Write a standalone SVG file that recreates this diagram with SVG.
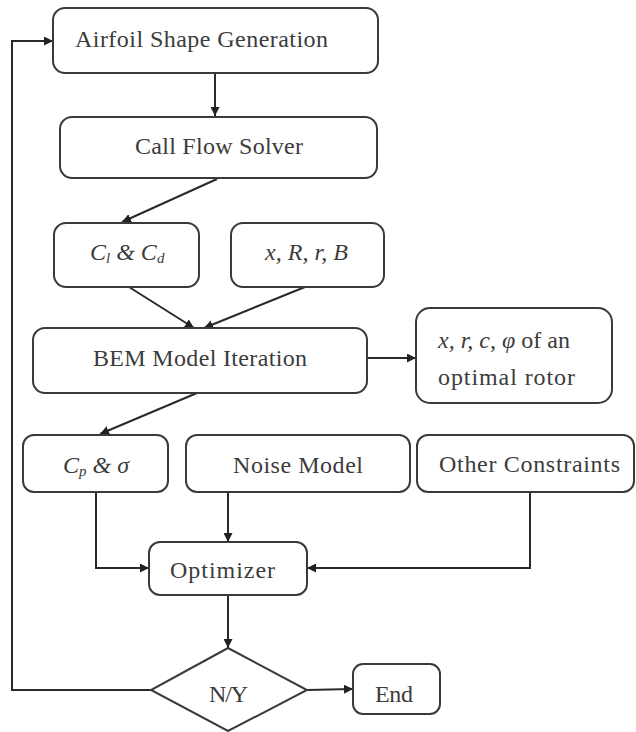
<svg xmlns="http://www.w3.org/2000/svg" width="636" height="732" viewBox="0 0 636 732">
  <defs>
    <marker id="arrow" viewBox="0 0 10 10" refX="10" refY="5" markerWidth="9" markerHeight="9" markerUnits="userSpaceOnUse" orient="auto">
      <path d="M0,0 L10,5 L0,10 z" fill="#222"/>
    </marker>
    <style>
      .box { fill: #fff; stroke: #3a3a3a; stroke-width: 2; }
      text { font-family: "Liberation Serif", "Times New Roman", serif; font-size: 24px; fill: #3c3c3c; }
      .it { font-style: italic; }
      .sub { font-size: 15px; }
      .conn { fill: none; stroke: #2a2a2a; stroke-width: 2; }
      .conn.arr { marker-end: url(#arrow); }
    </style>
  </defs>
  <rect width="636" height="732" fill="#fff"/>

  <!-- flow arrows and the feedback loop -->
  <g id="connectors">
    <line class="conn arr" x1="215" y1="73" x2="215" y2="116"/>
    <line class="conn arr" x1="217" y1="179" x2="122" y2="222"/>
    <line class="conn arr" x1="129" y1="287" x2="194" y2="328"/>
    <line class="conn arr" x1="305" y1="287" x2="204" y2="328"/>
    <line class="conn arr" x1="367" y1="358" x2="416" y2="358"/>
    <line class="conn arr" x1="197" y1="393" x2="100" y2="434"/>
    <polyline class="conn arr" points="96,492 96,568 149,568"/>
    <line class="conn arr" x1="228" y1="492" x2="228" y2="542"/>
    <polyline class="conn arr" points="530,492 530,568 307,568"/>
    <line class="conn arr" x1="228" y1="595" x2="228" y2="648"/>
    <line class="conn arr" x1="307" y1="690" x2="353" y2="689"/>
    <polyline class="conn arr" points="151,690 12,690 12,41 53,41"/>
  </g>

  <g id="airfoil">
    <rect class="box" x="53" y="8" width="325" height="65" rx="12"/>
    <text x="75" y="47" textLength="253">Airfoil Shape Generation</text>
  </g>

  <g id="flow-solver">
    <rect class="box" x="60" y="117" width="317" height="61" rx="12"/>
    <text x="135" y="154" textLength="168">Call Flow Solver</text>
  </g>

  <g id="cl-cd">
    <rect class="box" x="54" y="223" width="145" height="64" rx="12"/>
    <text class="it" x="90" y="260">C<tspan class="sub" dy="3">l</tspan><tspan dy="-3"> &amp; C</tspan><tspan class="sub" dy="3">d</tspan></text>
  </g>

  <g id="geometry">
    <rect class="box" x="231" y="223" width="153" height="64" rx="12"/>
    <text class="it" x="265" y="260" textLength="83">x, R, r, B</text>
  </g>

  <g id="bem">
    <rect class="box" x="33" y="328" width="334" height="65" rx="12"/>
    <text x="93" y="366" textLength="214">BEM Model Iteration</text>
  </g>

  <g id="optimal-rotor">
    <rect class="box" x="416" y="308" width="196" height="95" rx="14"/>
    <text x="438" y="348"><tspan class="it">x, r, c, φ</tspan> of an</text>
    <text x="438" y="385" textLength="137">optimal rotor</text>
  </g>

  <g id="cp-sigma">
    <rect class="box" x="23" y="435" width="145" height="57" rx="11"/>
    <text class="it" x="63" y="473">C<tspan class="sub" dy="3">p</tspan><tspan dy="-3"> &amp; σ</tspan></text>
  </g>

  <g id="noise">
    <rect class="box" x="186" y="435" width="224" height="57" rx="11"/>
    <text x="233" y="473" textLength="130">Noise Model</text>
  </g>

  <g id="constraints">
    <rect class="box" x="417" y="435" width="217" height="57" rx="11"/>
    <text x="439" y="472" textLength="181">Other Constraints</text>
  </g>

  <g id="optimizer">
    <rect class="box" x="149" y="542" width="158" height="53" rx="11"/>
    <text x="170" y="578" textLength="105">Optimizer</text>
  </g>

  <g id="decision">
    <polygon class="box" points="228,648 307,690 228,731 151,690"/>
    <text x="209" y="702" textLength="39">N/Y</text>
  </g>

  <g id="end">
    <rect class="box" x="353" y="664" width="87" height="50" rx="10"/>
    <text x="375" y="702" textLength="38">End</text>
  </g>
</svg>
